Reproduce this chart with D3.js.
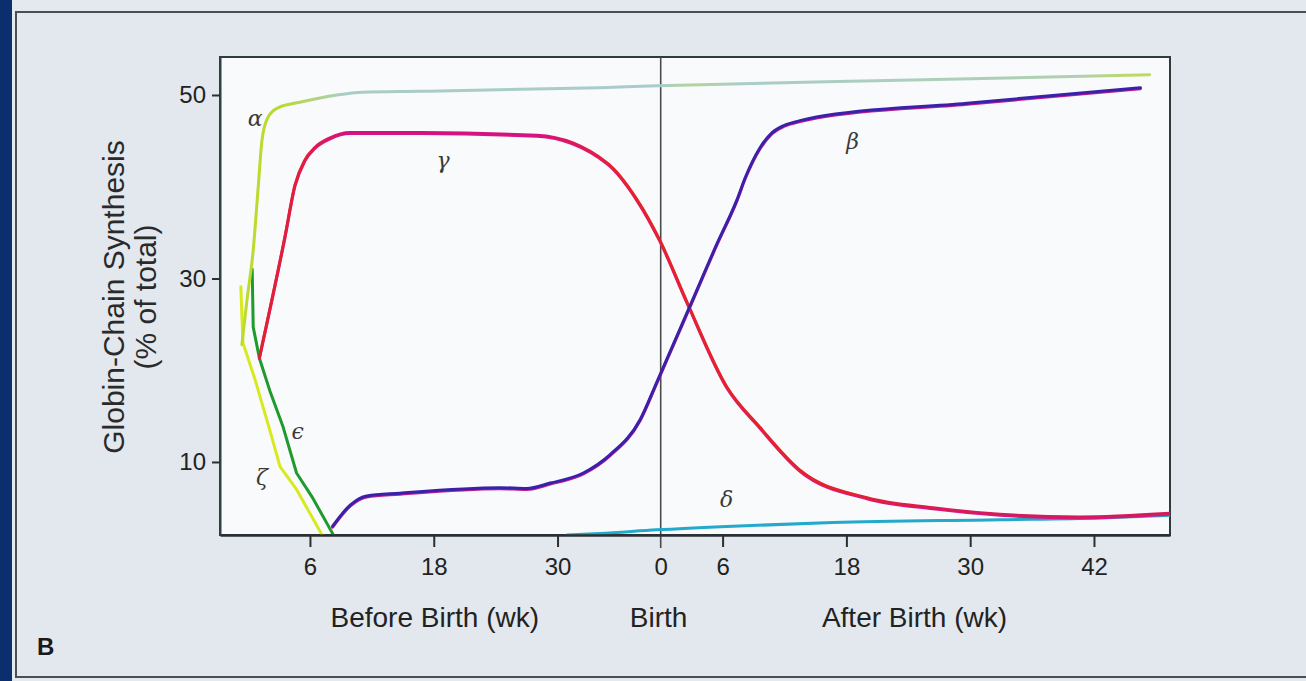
<!DOCTYPE html>
<html>
<head>
<meta charset="utf-8">
<script src="https://cdn.jsdelivr.net/npm/d3@7"></script>
<style>
  body { margin: 0; background: #e3e9ee; overflow: hidden; }
  svg { display: block; }
</style>
</head>
<body>
<svg id="chart"></svg>
<script>
// weeks counted from conception, birth sits at week 40
const BIRTH = 40;
const xTickWeeks = [6, 18, 30, 40, 46, 58, 70, 82];
const xTickLabels = ['6', '18', '30', '0', '6', '18', '30', '42'];
const yTickValues = [10, 30, 50];
const axisTitles = ['Before Birth (wk)', 'Birth', 'After Birth (wk)'];
const yTitle = ['Globin-Chain Synthesis', '(% of total)'];

const alphaWeeks = [-0.6, -0.1, 0.5, 1.0, 1.35, 1.9, 2.9, 5.0, 8.6, 11.1, 16.7, 34.1, 39.7, 63.2, 87.4];
const alphaValues = [22.8, 27.7, 33.1, 40.2, 45.1, 47.5, 48.6, 49.2, 50.0, 50.3, 50.4, 50.8, 51.0, 51.6, 52.2];

const gammaWeeks = [1.1, 3.6, 4.55, 5.5, 6.5, 7.9, 9.9, 16.7, 28.0, 34.8, 37.7, 39.9, 42.6, 46.4, 49.6, 53.5, 60.0, 66.4, 72.9, 80.6, 89.4];
const gammaValues = [21.4, 34.7, 40.2, 42.9, 44.3, 45.3, 45.9, 45.9, 45.6, 42.6, 38.6, 34.2, 27.3, 18.2, 13.8, 9.1, 6.1, 5.0, 4.3, 4.0, 4.4];

const betaWeeks = [8.2, 9.9, 11.5, 14.7, 24.4, 27.0, 29.3, 32.5, 35.1, 38.0, 39.7, 42.8, 45.5, 47.4, 48.2, 49.6, 50.8, 52.0, 53.5, 55.1, 69.7, 86.5];
const betaValues = [3.0, 5.3, 6.3, 6.6, 7.2, 7.1, 7.7, 8.8, 10.8, 14.6, 18.9, 26.9, 33.9, 38.6, 41.0, 44.2, 45.9, 46.7, 47.2, 47.6, 49.1, 50.8];

const epsilonWeeks = [0.4, 0.5, 1.1, 2.1, 3.4, 4.7, 6.2, 8.3];
const epsilonValues = [31.0, 24.7, 21.3, 17.8, 13.8, 8.8, 6.2, 2.0];

const zetaWeeks = [-0.7, -0.5, 0.7, 2.1, 3.1, 4.7, 7.2];
const zetaValues = [29.1, 23.0, 18.9, 13.5, 9.5, 7.0, 2.0];

const deltaWeeks = [30.9, 34.1, 39.6, 47.0, 56.7, 72.9, 82.6, 89.4];
const deltaValues = [2.05, 2.2, 2.6, 3.0, 3.4, 3.7, 3.9, 4.2];

const chainLabels = [
  { text: 'α', week: 0.7, value: 47.5 },
  { text: 'γ', week: 18.9, value: 42.9 },
  { text: 'β', week: 58.6, value: 44.9 },
  { text: 'ϵ', week: 4.8, value: 13.3 },
  { text: 'ζ', week: 1.35, value: 8.3 },
  { text: 'δ', week: 46.4, value: 5.9 },
];

const zip = (ws, vs) => ws.map((w, i) => ({ week: w, value: vs[i] }));

const width = 1306;
const height = 681;
const plot = { left: 220, right: 1170, top: 57, bottom: 535 };
const font = '"Liberation Sans", Arial, sans-serif';

const svg = d3.select('#chart').attr('width', width).attr('height', height);

// outer page: dark blue strip at left, framed grey panel
svg.append('rect').attr('width', width).attr('height', height).attr('fill', '#e3e9ee');
svg.append('rect').attr('width', 12).attr('height', height).attr('fill', '#0b2e6c');
svg.append('rect')
  .attr('x', 16).attr('y', 12).attr('width', width + 20).attr('height', 665)
  .attr('fill', '#e2e8ed').attr('stroke', '#4a4f52').attr('stroke-width', 2);

const xScale = d3.scaleLinear().domain([-2.72, 89.37]).range([plot.left, plot.right]);
const yScale = d3.scaleLinear().domain([2.04, 54.14]).range([plot.bottom, plot.top]);

svg.append('rect')
  .attr('x', plot.left).attr('y', plot.top)
  .attr('width', plot.right - plot.left).attr('height', plot.bottom - plot.top)
  .attr('fill', '#f8fafb')
  .attr('stroke', '#2f3c3c').attr('stroke-width', 2);

const defs = svg.append('defs');
defs.append('clipPath').attr('id', 'plotClip')
  .append('rect')
  .attr('x', plot.left).attr('y', plot.top)
  .attr('width', plot.right - plot.left).attr('height', plot.bottom - plot.top);

const gradient = (id, stops) => {
  const g = defs.append('linearGradient').attr('id', id)
    .attr('gradientUnits', 'userSpaceOnUse')
    .attr('x1', plot.left).attr('x2', plot.right).attr('y1', 0).attr('y2', 0);
  stops.forEach(([o, c]) => g.append('stop').attr('offset', o).attr('stop-color', c));
};
gradient('alphaGrad', [[0, '#bddc2a'], [0.07, '#b9d934'], [0.13, '#a9cdc4'], [0.46, '#a8ccca'], [0.5, '#b4d598'], [0.55, '#a9cdc8'], [0.9, '#b0d0b0'], [1, '#c4de3c']]);
gradient('gammaGrad', [[0, '#e2202a'], [0.09, '#e0203a'], [0.13, '#d3127e'], [0.33, '#d5127e'], [0.42, '#e6232a'], [0.66, '#e4222e'], [0.78, '#d61a5a'], [1, '#d41a5c']]);

// birth line
svg.append('line')
  .attr('x1', xScale(BIRTH)).attr('x2', xScale(BIRTH))
  .attr('y1', plot.top).attr('y2', plot.bottom + 13)
  .attr('stroke', '#4b4b4b').attr('stroke-width', 1.6);

const smooth = d3.line()
  .x(d => xScale(d.week))
  .y(d => yScale(d.value))
  .curve(d3.curveMonotoneX);
const straight = d3.line()
  .x(d => xScale(d.week))
  .y(d => yScale(d.value));

const lines = svg.append('g').attr('clip-path', 'url(#plotClip)')
  .attr('fill', 'none').attr('stroke-linejoin', 'round').attr('stroke-linecap', 'round');

const drawSeries = (data, gen, stroke, w, fringe) => {
  if (fringe) {
    lines.append('path').datum(data)
      .attr('transform', 'translate(0,1)')
      .attr('stroke', fringe).attr('stroke-width', w).attr('d', gen);
  }
  lines.append('path').datum(data)
    .attr('stroke', stroke).attr('stroke-width', w).attr('d', gen);
};

drawSeries(zip(deltaWeeks, deltaValues), smooth, '#23a9cb', 3);
drawSeries(zip(zetaWeeks, zetaValues), straight, '#d6ea1e', 3);
drawSeries(zip(epsilonWeeks, epsilonValues), straight, '#1f9a2c', 3);
drawSeries(zip(alphaWeeks, alphaValues), smooth, 'url(#alphaGrad)', 3);
drawSeries(zip(gammaWeeks, gammaValues), smooth, 'url(#gammaGrad)', 3, '#d8168a');
drawSeries(zip(betaWeeks, betaValues), smooth, '#3a20aa', 3, '#c21c90');

// axes
const xAxis = d3.axisBottom(xScale)
  .tickValues(xTickWeeks)
  .tickFormat((d, i) => xTickLabels[i])
  .tickSize(12).tickPadding(11).tickSizeOuter(0);
const gx = svg.append('g').attr('transform', `translate(0,${plot.bottom})`).call(xAxis);
gx.select('.domain').attr('stroke', '#2b2f30').attr('stroke-width', 2.5);
gx.selectAll('.tick line').attr('stroke', '#2b2f30').attr('stroke-width', 2)
  .filter(d => d === BIRTH).remove();
gx.selectAll('.tick text').attr('font-family', font).attr('font-size', 24).attr('fill', '#222');

const yAxis = d3.axisLeft(yScale)
  .tickValues(yTickValues)
  .tickSize(8).tickPadding(6).tickSizeOuter(0);
const gy = svg.append('g').attr('transform', `translate(${plot.left},0)`).call(yAxis);
gy.select('.domain').attr('stroke', '#2f4040').attr('stroke-width', 2);
gy.selectAll('.tick line').attr('stroke', '#2b2f30').attr('stroke-width', 2);
gy.selectAll('.tick text').attr('font-family', font).attr('font-size', 24).attr('fill', '#222');

// axis titles
const titleX = [xScale(18.1), xScale(BIRTH - 0.2), xScale(64.6)];
svg.append('g').selectAll('text').data(axisTitles).join('text')
  .attr('x', (d, i) => titleX[i]).attr('y', 627)
  .attr('text-anchor', 'middle')
  .attr('font-family', font).attr('font-size', 28).attr('fill', '#222')
  .text(d => d);

svg.append('g').attr('transform', 'translate(0,297) rotate(-90)')
  .selectAll('text').data(yTitle).join('text')
  .attr('x', 0).attr('y', (d, i) => 124 + i * 32)
  .attr('text-anchor', 'middle')
  .attr('font-family', font).attr('font-size', 30).attr('fill', '#2a2a2a')
  .text(d => d);

// chain labels
svg.append('g').selectAll('text').data(chainLabels).join('text')
  .attr('x', d => xScale(d.week)).attr('y', d => yScale(d.value))
  .attr('dy', '0.35em')
  .attr('text-anchor', 'middle')
  .attr('font-family', '"DejaVu Serif", "Liberation Serif", serif')
  .attr('font-style', 'italic').attr('font-size', 22).attr('fill', '#3a3a3a')
  .text(d => d.text);

svg.append('text')
  .attr('x', 37).attr('y', 655)
  .attr('font-family', font).attr('font-weight', 'bold')
  .attr('font-size', 24).attr('fill', '#1a1a1a')
  .text('B');
</script>
</body>
</html>
